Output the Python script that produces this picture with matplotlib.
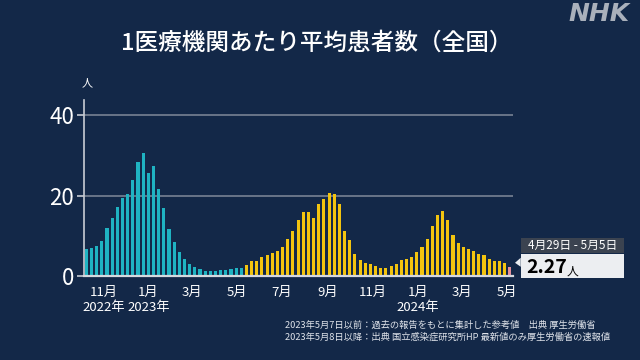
import numpy as np
import matplotlib
matplotlib.use('Agg')
import matplotlib.pyplot as plt
import matplotlib.dates as mdates
from matplotlib.patches import Rectangle, Polygon

plt.rcParams['font.family'] = ['Noto Sans CJK JP', 'DejaVu Sans']

# DATA
week_start = '2022-10-09'          # first week-end date (Sunday)
week_end = '2024-05-06'
teal_vals = [6.7, 7.0, 7.5, 8.8, 11.9, 14.4, 17.2, 19.4, 20.3, 23.8, 28.3, 30.4,
             25.7, 27.4, 21.6, 17.0, 11.7, 8.6, 6.0, 4.3, 3.0, 2.35, 1.9, 1.45,
             1.4, 1.4, 1.55, 1.65, 1.95, 2.0, 2.1]
yellow_vals = [2.75, 3.75, 3.75, 4.7, 5.2, 5.7, 6.3, 7.4, 9.3, 11.2, 14.0, 16.0,
               16.0, 14.5, 18.0, 19.2, 20.7, 20.4, 17.8, 11.2, 9.0, 5.5, 4.0, 3.4,
               3.0, 2.6, 2.2, 2.2, 2.6, 3.1, 4.0, 4.4, 4.7, 6.0, 7.2, 9.2, 12.5,
               15.1, 16.3, 14.0, 10.3, 8.2, 7.2, 6.7, 6.3, 5.5, 5.2, 4.4, 3.8,
               3.75, 3.4]
latest_val = 2.27
latest_label = '4月29日 - 5月5日'
month_ticks = ['2022-11-01', '2023-01-01', '2023-03-01', '2023-05-01', '2023-07-01',
               '2023-09-01', '2023-11-01', '2024-01-01', '2024-03-01', '2024-05-01']
month_labels = ['11月\n2022年', '1月\n2023年', '3月', '5月', '7月', '9月', '11月',
                '1月\n2024年', '3月', '5月']
yticks = [0, 20, 40]
title = '1医療機関あたり平均患者数（全国）'
notes = ['2023年5月7日以前：過去の報告をもとに集計した参考値　出典 厚生労働省',
         '2023年5月8日以降：出典 国立感染症研究所HP 最新値のみ厚生労働省の速報値']

# COLORS
bg = '#132848'
teal = '#1fb3c2'
yellow = '#f3c40f'
pink = '#e48f9a'

weeks = np.arange(np.datetime64(week_start), np.datetime64(week_end), np.timedelta64(7, 'D'))
x = mdates.date2num(weeks.astype('datetime64[s]').astype(object))
vals = teal_vals + yellow_vals + [latest_val]
cols = [teal] * len(teal_vals) + [yellow] * len(yellow_vals) + [pink]

fig = plt.figure(figsize=(6.4, 3.6), dpi=100, facecolor=bg)
ax = fig.add_axes([0.131, 0.232, 0.670, 0.490])
ax.set_facecolor(bg)

for v in [20, 40]:
    ax.axhline(v, color='#6f7b8d', lw=1.3, zorder=1)
ax.bar(x, vals, width=4.2, color=cols, zorder=2, linewidth=0)

ax.set_ylim(0, 43.6)
ax.set_xlim(x[0] - 3.4, x[-1] + 3.8)
ax.set_yticks(yticks)
ax.set_yticklabels([str(t) for t in yticks], fontsize=16, color='white')
tick_x = mdates.date2num(np.array(month_ticks, dtype='datetime64[s]').astype(object))
ax.set_xticks(tick_x)
ax.set_xticklabels(month_labels, fontsize=9.5, color='white', linespacing=1.15)
ax.tick_params(axis='x', length=0, pad=7)
ax.tick_params(axis='y', length=5, width=1.2, color='#c8ccd4', pad=2)
for s in ['top', 'right']:
    ax.spines[s].set_visible(False)
ax.spines['left'].set_color('#c8ccd4')
ax.spines['left'].set_linewidth(1.2)
ax.spines['bottom'].set_color('#d6d9df')
ax.spines['bottom'].set_linewidth(1.6)
ax.spines['bottom'].set_zorder(3)

fig.text(0.136, 0.77, '人', fontsize=8, color='white', ha='center', va='center')
fig.text(0.495, 0.88, title, fontsize=17, color='white', ha='center', va='center',
         fontweight='medium')
fig.text(0.983, 0.96, 'NHK', fontsize=18, color='#a9b0bb', ha='right', va='center',
         fontweight='bold', style='italic', family='DejaVu Sans')

# latest value box
fig.patches.append(Rectangle((0.8136, 0.2964), 0.1614, 0.0433, transform=fig.transFigure,
                             facecolor='#3b4350', edgecolor='none'))
fig.patches.append(Rectangle((0.8136, 0.2269), 0.1614, 0.0667, transform=fig.transFigure,
                             facecolor='#eceef1', edgecolor='none'))
fig.patches.append(Polygon([(0.8047, 0.2700), (0.8136, 0.2590), (0.8136, 0.2840)],
                           closed=True, transform=fig.transFigure,
                           facecolor='#eceef1', edgecolor='none'))
fig.text(0.894, 0.318, latest_label, fontsize=8.5, color='white', ha='center', va='center')
fig.text(0.823, 0.258, f'{latest_val:.2f}', fontsize=14, color='black',
         ha='left', va='center', fontweight='bold')
fig.text(0.886, 0.248, '人', fontsize=8.5, color='black', ha='left', va='center')

fig.text(0.445, 0.097, notes[0], fontsize=6.7, color='#dfe3ea', ha='left', va='center')
fig.text(0.445, 0.063, notes[1], fontsize=6.7, color='#dfe3ea', ha='left', va='center')

fig.savefig('out.png', dpi=100, facecolor=bg)
